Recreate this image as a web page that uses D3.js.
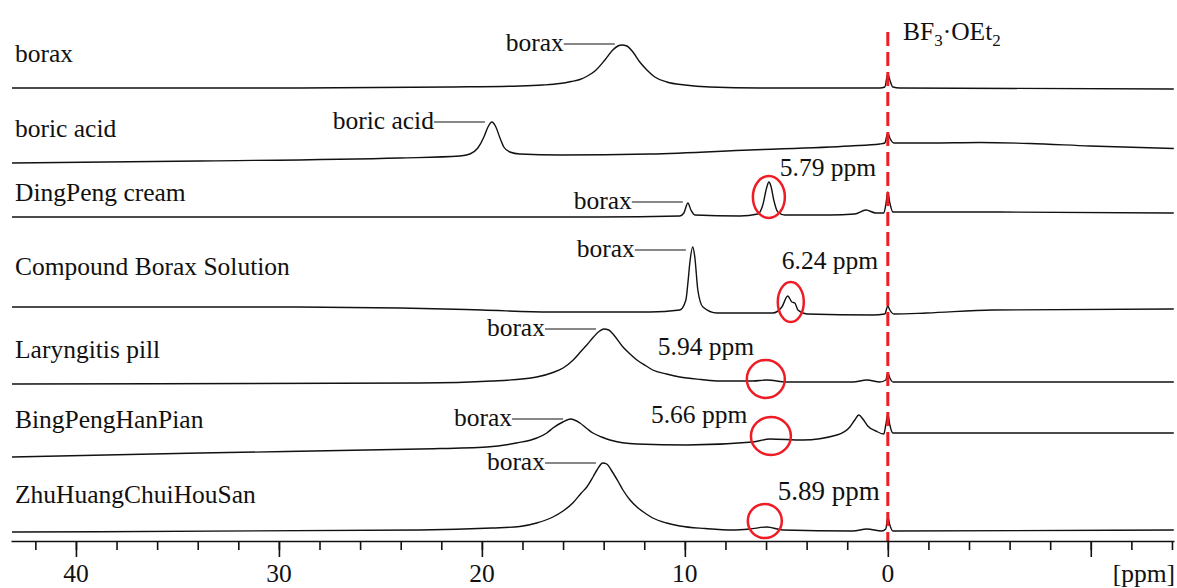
<!DOCTYPE html>
<html>
<head>
<meta charset="utf-8">
<script src="https://cdn.jsdelivr.net/npm/d3@7"></script>
<style>
  body { margin: 0; background: #fff; }
</style>
</head>
<body>
<div id="chart"></div>
<script>
// sample names, top to bottom
const sampleNames = ["borax", "boric acid", "DingPeng cream", "Compound Borax Solution",
  "Laryngitis pill", "BingPengHanPian", "ZhuHuangChuiHouSan"];

// 11B spectra: [ppm, intensity (a.u.)]
const specBorax = [[43.15,2],[28.97,2],[21.58,3],[18.13,4],[17.0,5],[16.16,6.5],[15.6,8.5],[15.17,10.5],
  [14.8,14],[14.43,19],[13.94,30],[13.55,40],[13.30,44],[13.10,45],[12.86,44],[12.56,38],[12.22,28],
  [11.87,20],[11.48,13],[10.89,8],[10.0,5],[8.77,3],[6.31,2],[0.39,2],[0.15,3],[0,16],[-0.10,10],
  [-0.25,3],[-0.59,2],[-14.09,1]];
const specBoricAcid = [[43.15,2],[33.89,4],[24.04,7],[21.08,9],[20.59,11],[20.20,17],[19.90,28],[19.70,38],
  [19.51,43],[19.31,38],[19.11,27],[18.92,18],[18.62,13],[18.13,11],[16.16,10],[11.72,11],[6.80,15],
  [1.87,19],[0.39,21],[0.15,22],[0,32],[-0.10,27],[-0.30,22],[-2.07,22],[-4.53,22.5],[-7.0,21.5],
  [-9.95,19],[-14.09,16.5]];
const specDingPeng = [[43.15,1],[24.04,1],[14.19,1],[10.25,2],[10.05,5],[9.85,15],[9.70,8],[9.51,3],
  [7.29,2],[6.40,4],[6.16,13],[5.96,31],[5.86,36],[5.76,32],[5.62,18],[5.42,6],[5.07,3],[2.86,3],
  [1.63,4],[1.08,8],[0.59,5],[0.20,5],[0.10,13],[0,26],[-0.10,15],[-0.25,6],[-5.52,6],[-14.09,5]];
const specCompound = [[43.15,9],[30.0,9],[24.0,8],[20.0,6],[16.65,4],[11.72,4],[10.25,6],[9.95,16],
  [9.85,33],[9.75,54],[9.61,69],[9.51,59],[9.36,26],[9.11,9],[8.42,3],[5.67,3],[5.22,9],[4.93,20],
  [4.73,14],[4.58,13],[4.43,6],[3.99,2],[0.74,1],[0.15,2],[0,10],[-0.10,6],[-0.30,2],[-1.92,3],
  [-5.17,6],[-14.09,7]];
const specLaryngitis = [[43.15,1],[23.05,2],[19.5,4],[17.3,8],[16.5,12.5],[16.0,17],[15.5,25],[15.1,34],
  [14.83,40],[14.5,48],[14.2,54],[13.99,56],[13.75,55],[13.50,50],[13.05,38],[12.7,31],[12.36,25],
  [11.9,19],[11.58,15],[10.9,11],[10.25,8],[9.2,5.5],[8.28,4],[6.65,4],[5.96,5],[4.98,3],
  [1.72,3],[1.03,5],[0.39,3],[0.10,5],[0,12],[-0.10,7],[-0.25,3],[-14.09,3]];
const specBingPeng = [[43.15,1],[33.89,5],[23.05,9],[19.75,11],[18.3,15],[17.29,20],[16.8,25],[16.50,30],
  [16.01,36],[15.62,39],[15.17,35],[14.8,29],[14.53,25],[14.1,21],[13.69,18],[12.36,14],[9.90,13],
  [6.65,16],[5.81,19],[4.19,18],[2.51,23],[1.87,31],[1.63,38],[1.43,43],[1.23,39],[0.99,32],[0.59,27],
  [0.20,24],[0.10,33],[0,44],[-0.10,33],[-0.25,25],[-14.09,25]];
const specZhuHuang = [[43.15,1],[23.05,3],[19.5,5],[18.13,6.5],[17.3,10],[16.5,16],[16.0,22],[15.52,30],
  [15.1,40],[14.83,46],[14.5,57],[14.33,63],[14.04,70],[13.85,69],[13.60,62],[13.3,52],[13.05,43],
  [12.7,33],[12.36,26],[11.9,19],[11.58,15],[10.9,10],[10.25,7],[9.0,4.5],[7.64,3],[6.80,4],[5.96,6],
  [5.17,3],[1.72,2],[1.03,4],[0.30,2],[0.10,4],[0,16],[-0.10,8],[-0.25,2],[-14.09,3]];
const spectra = [specBorax, specBoricAcid, specDingPeng, specCompound, specLaryngitis, specBingPeng, specZhuHuang];

// labelled borax / boric acid peaks: [row, text, ppm at line end, intensity]
const peakNotes = [[0,"borax",13.45,46],[1,"boric acid",19.85,43],[2,"borax",10.1,16],[3,"borax",9.95,66],
  [4,"borax",14.38,56],[5,"borax",16.0,39],[6,"borax",14.38,70]];
// circled signals: [row, label, ppm, intensity, label ppm, label intensity]
const circled = [[2,"5.79 ppm",5.86,21,5.32,42],[3,"6.24 ppm",4.78,14,5.22,47],[4,"5.94 ppm",6.01,6,11.33,30],
  [5,"5.66 ppm",5.76,22,11.67,35],[6,"5.89 ppm",6.06,12,5.42,33]];
const majorTicks = [40, 30, 20, 10, 0, -10];
const tickLabels = ["40", "30", "20", "10", "0", ""];
const minorTicks = d3.range(-14, 43, 2);

// layout
const W = 1177, H = 588;
const rowBase = [90, 165, 218, 316, 385, 458, 533];
const nameBase = [62, 137, 201, 275, 358, 428, 503];
const circleR = [[16,21],[13,20],[19,19],[20,19],[17,17]];
const circleFont = [25.5, 25.5, 25.5, 25.5, 27];
const axisY = 541;
const font = 25.5;
const serif = '"Liberation Serif", "Times New Roman", Times, serif';

const svg = d3.select("#chart").append("svg").attr("width", W).attr("height", H)
  .attr("font-family", serif);

const x = d3.scaleLinear().domain([43.2, -14.1]).range([11, 1174]);
const y = d3.scaleLinear().domain([0, 100]).range([0, -100]);
const line = d3.line().x(d => x(d[0])).y(d => y(d[1])).curve(d3.curveMonotoneX);

// spectra
const rows = svg.selectAll("g.row").data(spectra).join("g")
  .attr("class", "row")
  .attr("transform", (d, i) => `translate(0,${rowBase[i]})`);
rows.append("path")
  .attr("d", d => line(d))
  .attr("fill", "none")
  .attr("stroke", "#111")
  .attr("stroke-width", 1.4)
  .attr("stroke-linejoin", "round");

// sample names
svg.selectAll("text.name").data(sampleNames).join("text")
  .attr("class", "name")
  .attr("x", 15)
  .attr("y", (d, i) => nameBase[i])
  .style("font-size", font + "px")
  .text(d => d);

// peak leader lines + text
peakNotes.forEach(([r, t, p, v]) => {
  const x2 = x(p), x1 = x2 - 51, yy = rowBase[r] + y(v);
  svg.append("line").attr("x1", x1).attr("x2", x2).attr("y1", yy).attr("y2", yy)
    .attr("stroke", "#111").attr("stroke-width", 1.2);
  svg.append("text").attr("x", x1).attr("y", yy + 7).attr("text-anchor", "end")
    .style("font-size", font + "px").text(t);
});

// circled signals
circled.forEach(([r, t, p, v, lp, lv], i) => {
  svg.append("ellipse")
    .attr("cx", x(p)).attr("cy", rowBase[r] + y(v))
    .attr("rx", circleR[i][0]).attr("ry", circleR[i][1])
    .attr("fill", "none").attr("stroke", "#ee1c25").attr("stroke-width", 2.5);
  svg.append("text").attr("x", x(lp)).attr("y", rowBase[r] + y(lv))
    .style("font-size", circleFont[i] + "px").text(t);
});

// reference line BF3·OEt2
svg.append("line")
  .attr("x1", x(0)).attr("x2", x(0)).attr("y1", 32).attr("y2", axisY)
  .attr("stroke", "#ee1c25").attr("stroke-width", 3).attr("stroke-dasharray", "14,6");
const ref = svg.append("text").attr("x", 903).attr("y", 40).style("font-size", font + "px");
ref.append("tspan").text("BF");
ref.append("tspan").attr("dy", 6).style("font-size", "17px").text("3");
ref.append("tspan").attr("dy", -6).text("·OEt");
ref.append("tspan").attr("dy", 6).style("font-size", "17px").text("2");

// axis
const gx = svg.append("g").attr("transform", `translate(0,${axisY})`);
gx.call(d3.axisBottom(x).tickValues(minorTicks).tickSize(9).tickSizeOuter(0).tickFormat(""));
gx.append("g").call(d3.axisBottom(x).tickValues(majorTicks).tickSize(16).tickSizeOuter(0).tickFormat(""))
  .select(".domain").remove();
gx.selectAll("path, line").attr("stroke", "#111").attr("stroke-width", 1.6);
gx.selectAll("text.tl").data(majorTicks).join("text")
  .attr("class", "tl")
  .attr("x", d => x(d))
  .attr("y", 41)
  .attr("text-anchor", "middle")
  .style("font-size", font + "px")
  .text((d, i) => tickLabels[i]);
gx.append("text").attr("x", 1175).attr("y", 41).attr("text-anchor", "end")
  .style("font-size", font + "px").text("[ppm]");

// one serif face for every label, axis groups included
svg.selectAll("text").style("font-family", serif).style("fill", "#111");
</script>
</body>
</html>
